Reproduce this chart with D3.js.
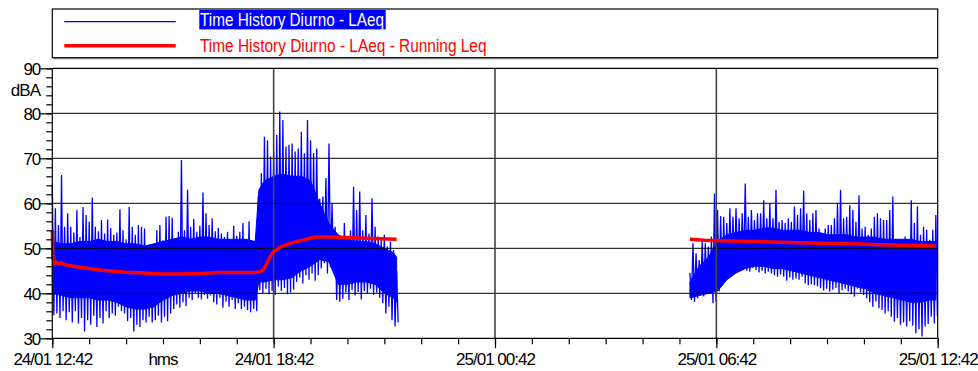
<!DOCTYPE html>
<html>
<head>
<meta charset="utf-8">
<script src="https://cdn.jsdelivr.net/npm/d3@7"></script>
<style>
  html, body { margin: 0; padding: 0; background: #fff; }
  svg { display: block; font-family: "Liberation Sans", Arial, Helvetica, sans-serif; }
</style>
</head>
<body>
<svg id="chart" width="978" height="371"></svg>
<script>
// ---- data -------------------------------------------------------------
// Time History Diurno - LAeq, 5-minute bins: max and min level (dBA) in each bin.
// Session 1 starts at 24/01 12:42 (minute 0), session 2 starts at minute 1037.
const seg1Start = 0;
const seg1Max = [64.1,58.9,55.2,66.3,54.8,57.8,54.8,53.5,58.5,52.5,
  59.2,57.4,55.9,61.3,54.8,53.8,56.3,53.3,56.4,54.5,
  53.0,53.5,58.7,54.0,52.0,59.2,54.8,53.0,55.2,54.8,
  54.4,50.5,50.3,49.2,54.0,55.2,51.8,57.0,57.2,56.8,
  51.9,53.7,69.6,54.0,63.0,54.8,56.5,53.7,55.0,62.4,
  57.8,55.2,56.7,53.8,54.5,53.3,52.5,53.7,51.5,55.0,
  52.8,53.7,55.6,51.9,56.0,51.1,50.5,61.5,66.7,74.8,
  74.0,70.4,71.5,75.2,80.4,78.5,72.6,73.0,73.3,71.5,
  72.2,75.9,71.1,78.5,74.0,71.1,72.2,61.0,61.5,65.6,
  73.3,60.0,54.8,52.6,51.1,55.6,50.4,54.0,63.7,58.5,
  62.6,54.0,57.4,53.3,61.1,54.8,52.6,51.9,53.0,50.4,
  51.5,49.6,45.0];
const seg1Min = [35.1,35.5,34.5,36.0,34.0,35.8,33.5,36.0,33.3,34.5,
  31.5,34.0,33.0,35.0,32.5,34.5,33.3,36.0,34.5,35.5,
  35.0,37.0,36.0,35.5,33.8,34.5,31.5,33.0,32.5,34.0,
  33.5,34.8,33.5,34.0,35.0,33.5,34.8,33.8,35.5,36.5,
  37.5,36.8,38.0,37.2,39.0,38.5,40.0,39.0,38.6,39.6,
  38.8,39.5,38.0,37.5,39.0,36.8,38.2,37.0,38.5,36.5,
  37.8,36.5,37.0,36.3,35.8,36.5,36.0,40.7,40.0,41.0,
  39.8,40.5,39.6,41.5,40.5,41.2,39.8,40.2,40.8,42.5,
  43.5,42.2,44.0,43.0,44.4,42.8,44.0,45.5,46.7,44.4,
  45.8,44.5,38.5,38.1,38.8,40.2,38.5,40.7,39.5,40.3,
  38.6,40.5,40.0,41.0,39.6,40.2,39.0,37.8,35.5,37.0,
  34.0,32.6,33.5];

const seg2Start = 1037;
const seg2Max = [44.5,51.1,48.9,47.4,51.5,51.1,50.4,52.6,62.2,58.5,
  57.2,57.0,55.6,58.9,57.0,58.9,56.7,57.8,64.4,57.0,
  58.5,56.3,57.8,57.8,60.7,56.7,60.0,56.7,63.0,55.9,
  56.3,55.6,56.7,55.9,59.3,57.4,58.9,62.8,57.8,56.3,
  57.8,58.5,54.4,52.6,54.4,55.2,55.2,56.7,60.0,63.0,
  56.7,57.0,59.6,58.5,55.9,61.8,54.4,54.8,53.0,54.4,
  57.0,57.8,56.7,56.3,56.3,58.5,61.5,51.5,51.1,51.9,
  52.6,51.5,60.7,55.6,59.3,53.0,54.8,54.1,51.9,54.1,
  57.4];
const seg2Min = [38.5,38.1,38.9,39.6,39.3,40.0,40.0,37.8,38.1,40.4,
  41.8,42.6,43.7,44.4,45.2,45.2,45.0,46.0,45.0,44.8,
  45.6,45.2,44.6,45.0,44.4,44.8,44.4,44.0,43.7,44.2,
  43.7,42.8,43.5,43.0,43.3,43.0,43.7,42.2,41.8,42.0,
  41.8,41.5,41.1,40.6,41.0,40.4,40.8,41.2,40.0,40.7,
  41.0,40.4,39.8,39.3,41.0,40.2,39.6,38.9,38.0,37.0,
  38.2,36.7,36.3,35.5,36.0,34.8,33.7,34.5,33.0,33.5,
  32.6,33.8,32.8,31.1,32.0,30.4,32.6,33.2,34.8,33.3,
  35.0];
const binMinutes = 5;

// Dense part of the LAeq record: range where most samples lie (minutes, dBA)
const coreMinutes1 = [0,15,30,45,60,75,90,105,120,135,150,165,180,195,210,225,240,255,270,285,
  300,315,330,336,345,360,375,390,405,420,435,450,465,480,495,510,525,540,555,560];
const coreTop1 = [51.5,51.0,51.0,51.5,51.5,52.0,51.5,51.5,51.0,51.0,50.5,51.0,51.5,52.0,52.5,52.0,52.5,52.5,52.0,52.0,
  52.0,52.0,51.5,63.0,65.0,66.0,66.5,66.0,66.0,65.0,60.0,55.5,53.0,52.0,51.5,51.5,51.0,50.0,49.0,48.0];
const coreBot1 = [40.0,39.5,39.0,39.0,39.0,38.5,38.5,38.0,37.0,36.5,36.5,37.0,38.5,39.5,40.0,40.5,40.5,40.0,40.0,39.5,
  39.0,38.5,38.5,42.5,42.5,43.0,43.0,43.5,45.0,46.0,47.5,47.0,42.0,42.0,42.5,42.5,42.0,40.0,39.0,38.0];
const coreMinutes2 = [1037,1052,1067,1082,1097,1112,1127,1142,1157,1172,1187,1202,1217,1232,1247,1262,1277,1292,
  1307,1322,1337,1352,1367,1382,1397,1412,1427,1437];
const coreTop2 = [42.5,46.0,48.0,51.5,53.0,53.5,54.0,54.0,54.5,54.5,54.0,54.0,54.0,53.5,53.5,53.0,53.0,53.0,
  52.5,52.5,52.5,52.0,52.0,52.0,52.0,51.5,51.5,51.5];
const coreBot2 = [39.0,39.5,40.0,40.5,43.0,44.5,45.5,46.0,46.0,45.5,45.5,45.0,44.5,44.0,43.5,43.0,42.5,42.0,
  41.5,41.0,40.0,39.5,39.0,38.5,38.0,38.0,38.5,38.5];

// Time History Diurno - LAeq - Running Leq (minutes from start, dBA)
const runMinutes1 = [0,1,3,6,10,15,20,30,45,60,80,100,120,150,180,210,240,270,300,330,
  340,345,350,355,360,370,380,390,400,410,420,430,450,480,520,560];
const runLeq1 = [54.0,48.0,46.5,47.0,46.5,46.8,46.4,46.1,45.8,45.5,45.1,44.9,44.7,44.5,44.3,44.3,44.4,44.6,44.6,44.6,
  44.9,45.6,47.0,48.3,49.2,50.2,50.8,51.2,51.6,51.9,52.3,52.5,52.5,52.4,52.2,52.0];
const runMinutes2 = [1037,1060,1100,1150,1200,1250,1300,1350,1400,1437];
const runLeq2 = [52.0,51.8,51.6,51.5,51.3,51.1,51.0,50.8,50.6,50.5];

// axis settings
const yMin = 30, yMax = 90;
const yMajorTicks = [30,40,50,60,70,80,90];
const xMajorHours = [0,6,12,18,24];
const seriesNames = ["Time History Diurno - LAeq", "Time History Diurno - LAeq - Running Leq"];
const yUnit = "dBA";
const xUnit = "hms";

// ---- scales -----------------------------------------------------------
const t0 = new Date(2000, 0, 24, 12, 42);
const atMin = m => new Date(t0.getTime() + m * 60000);

const plotL = 52.3, plotR = 937.7, plotT = 68.3, plotB = 338.3;
const x = d3.scaleTime().domain([t0, atMin(24 * 60)]).range([plotL, plotR]);
const y = d3.scaleLinear().domain([yMin, yMax]).range([plotB, plotT]);

const svg = d3.select("#chart");
const fmt = d3.timeFormat("%d/%m %H:%M");
const blue = "#0000ff";
const line = d3.line().x(d => x(d.t)).y(d => y(d.v));

// ---- LAeq time history ------------------------------------------------
const plot = svg.append("g");

// dense band
const band = d3.area().x(d => x(d.t)).y0(d => y(d.lo)).y1(d => y(d.hi));
[[coreMinutes1, coreTop1, coreBot1], [coreMinutes2, coreTop2, coreBot2]].forEach(([ms, hi, lo]) => {
  plot.append("path")
    .datum(ms.map((m, i) => ({ t: atMin(m), hi: hi[i], lo: lo[i] })))
    .attr("d", band).attr("fill", blue).attr("stroke", blue).attr("stroke-width", 1);
});

// bin extremes: one stroke up to the bin maximum and down to the bin minimum
function binPoints(start, hi, lo) {
  const pts = [];
  hi.forEach((h, i) => {
    const m = start + i * binMinutes;
    pts.push({ t: atMin(m), v: h });
    pts.push({ t: atMin(m + binMinutes / 2), v: lo[i] });
  });
  return pts;
}
[binPoints(seg1Start, seg1Max, seg1Min), binPoints(seg2Start, seg2Max, seg2Min)].forEach(pts => {
  plot.append("path").datum(pts)
    .attr("d", line)
    .attr("fill", "none").attr("stroke", blue).attr("stroke-width", 1.3)
    .attr("stroke-linejoin", "miter").attr("stroke-miterlimit", 1.5);
});

// ---- grid (drawn over the time history) -------------------------------
const grid = svg.append("g");
grid.selectAll("line.h").data(yMajorTicks.filter(v => v > yMin && v < yMax)).join("line")
  .attr("x1", plotL).attr("x2", plotR)
  .attr("y1", d => y(d)).attr("y2", d => y(d))
  .attr("stroke", "#000").attr("stroke-width", 1);
grid.selectAll("line.v").data(xMajorHours.slice(1, -1)).join("line")
  .attr("x1", d => x(atMin(d * 60))).attr("x2", d => x(atMin(d * 60)))
  .attr("y1", plotT).attr("y2", plotB)
  .attr("stroke", "#444").attr("stroke-width", 1.6);

// ---- running Leq ------------------------------------------------------
[[runMinutes1, runLeq1], [runMinutes2, runLeq2]].forEach(([ms, vs]) => {
  svg.append("path").datum(ms.map((m, i) => ({ t: atMin(m), v: vs[i] })))
    .attr("d", line)
    .attr("fill", "none").attr("stroke", "#ff0000").attr("stroke-width", 3.5)
    .attr("stroke-linejoin", "round");
});

// ---- frame & axes -----------------------------------------------------
const frame = svg.append("g").attr("stroke", "#000").attr("stroke-width", 1.2);
frame.append("line").attr("x1", plotL).attr("x2", plotR).attr("y1", plotT).attr("y2", plotT);
frame.append("line").attr("x1", plotR).attr("x2", plotR).attr("y1", plotT).attr("y2", plotB);
frame.append("line").attr("x1", plotL).attr("x2", plotL).attr("y1", plotT).attr("y2", plotB);
frame.append("line").attr("x1", plotL).attr("x2", plotR).attr("y1", plotB).attr("y2", plotB);

// y axis: major every 10 dB, minor every 2 dB
const yAxis = svg.append("g").attr("transform", `translate(${plotL},0)`)
  .call(d3.axisLeft(y).tickValues(d3.range(yMin, yMax + 0.1, 2)).tickSize(6).tickFormat(""));
yAxis.select(".domain").remove();
yAxis.selectAll(".tick line").attr("stroke", "#000").attr("stroke-width", 1.2);
const yMajor = svg.append("g").attr("transform", `translate(${plotL},0)`)
  .call(d3.axisLeft(y).tickValues(yMajorTicks).tickSize(12).tickPadding(0).tickFormat(d3.format("d")));
yMajor.select(".domain").remove();
yMajor.selectAll(".tick line").attr("stroke", "#000").attr("stroke-width", 1.2);
yMajor.selectAll(".tick text")
  .attr("font-size", 17).attr("letter-spacing", -1).attr("fill", "#000")
  .attr("font-family", "Liberation Sans, Arial, sans-serif").attr("dy", "0.35em");
svg.append("text").attr("x", 40).attr("y", 95.5).attr("text-anchor", "end")
  .attr("font-size", 17).attr("letter-spacing", -1).text(yUnit);

// x axis: tick every hour, label every 6 hours
const xAxis = svg.append("g").attr("transform", `translate(0,${plotB})`)
  .call(d3.axisBottom(x).tickValues(d3.range(0, 25).map(h => atMin(h * 60))).tickSize(6).tickFormat(""));
xAxis.select(".domain").remove();
xAxis.selectAll(".tick line").attr("stroke", "#000").attr("stroke-width", 1.2);
const xMajor = svg.append("g").attr("transform", `translate(0,${plotB})`)
  .call(d3.axisBottom(x).tickValues(xMajorHours.map(h => atMin(h * 60))).tickSize(10).tickPadding(0).tickFormat(fmt));
xMajor.select(".domain").remove();
xMajor.selectAll(".tick line").attr("stroke", "#000").attr("stroke-width", 1.2);
xMajor.selectAll(".tick text")
  .attr("font-size", 17).attr("letter-spacing", -1).attr("fill", "#000")
  .attr("font-family", "Liberation Sans, Arial, sans-serif")
  .attr("dy", null).attr("y", 365 - plotB);
svg.append("text").attr("x", x(atMin(3 * 60))).attr("y", 365).attr("text-anchor", "middle")
  .attr("font-size", 17).attr("letter-spacing", -1).text(xUnit);

// ---- legend -----------------------------------------------------------
const lg = svg.append("g");
lg.append("rect").attr("x", plotL).attr("y", 9).attr("width", plotR - plotL).attr("height", 48.7)
  .attr("fill", "#fff").attr("stroke", "#000").attr("stroke-width", 1.2);
lg.append("line").attr("x1", plotL + 1).attr("x2", plotR + 0.6).attr("y1", 58.6).attr("y2", 58.6)
  .attr("stroke", "#777").attr("stroke-width", 1.2);
lg.append("line").attr("x1", 64.3).attr("x2", 175.7).attr("y1", 21.7).attr("y2", 21.7)
  .attr("stroke", blue).attr("stroke-width", 1.2);
lg.append("line").attr("x1", 64.3).attr("x2", 175.7).attr("y1", 45.7).attr("y2", 45.7)
  .attr("stroke", "#ff0000").attr("stroke-width", 3.5);
lg.append("rect").attr("x", 199.3).attr("y", 10).attr("width", 186.4).attr("height", 19.4)
  .attr("fill", blue);
lg.append("text").attr("x", 200).attr("y", 26.3).attr("font-size", 17.5)
  .attr("textLength", 184).attr("lengthAdjust", "spacingAndGlyphs")
  .attr("fill", "#fff").text(seriesNames[0]);
lg.append("text").attr("x", 200).attr("y", 51.5).attr("font-size", 17.5)
  .attr("textLength", 286.5).attr("lengthAdjust", "spacingAndGlyphs")
  .attr("fill", "#ff0000").text(seriesNames[1]);
</script>
</body>
</html>
